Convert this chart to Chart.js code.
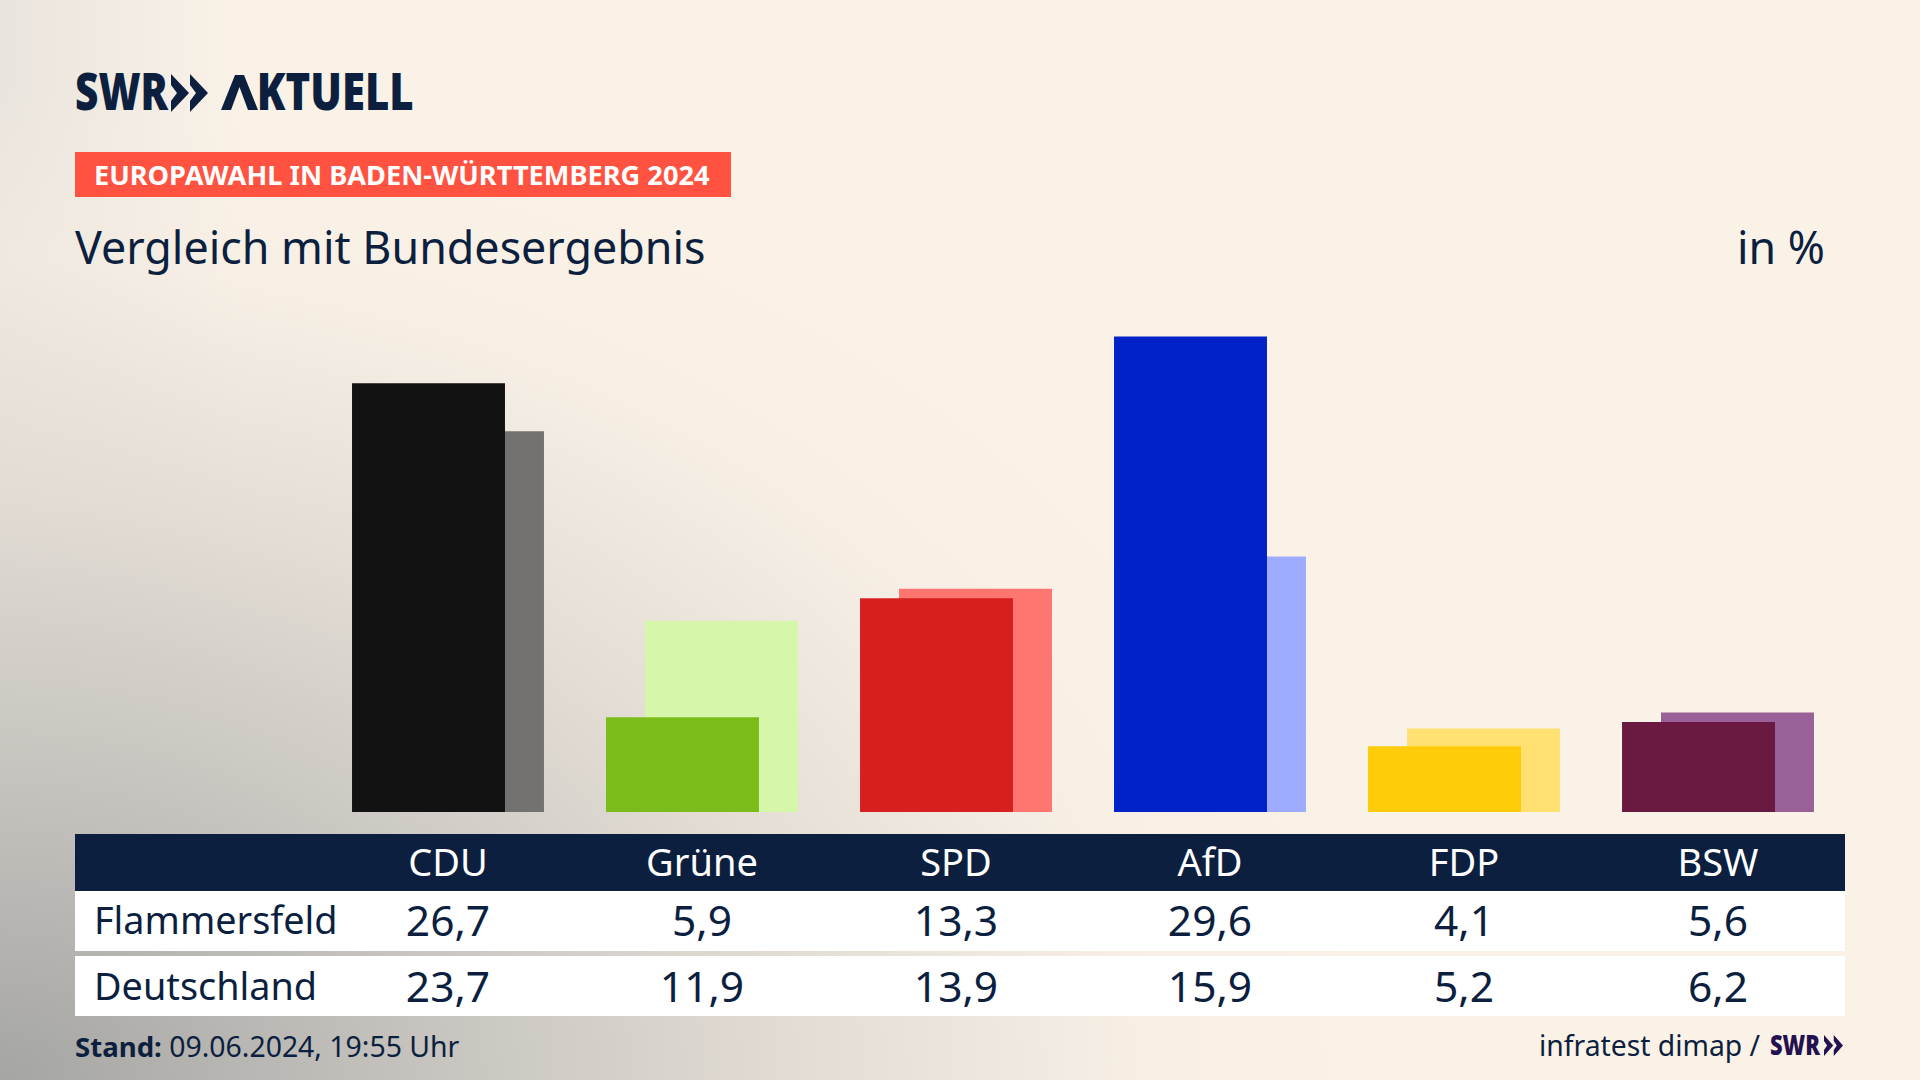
<!DOCTYPE html>
<html lang="de">
<head>
<meta charset="utf-8">
<title>Europawahl in Baden-Württemberg 2024</title>
<script src="https://cdn.jsdelivr.net/npm/chart.js@4"></script>
<style>
  html, body { margin: 0; padding: 0; }
  body {
    width: 1920px; height: 1080px; overflow: hidden; position: relative;
    font-family: "Noto Sans", sans-serif; color: #0c1f3f;
    background:
      radial-gradient(ellipse 1400px 1000px at 0 1080px, rgba(165,165,163,1) 0%, rgba(198,195,190,1) 30%, rgba(224,218,210,.88) 58%, rgba(245,237,227,.5) 82%, rgba(250,242,231,0) 100%),
      linear-gradient(90deg, #e9e4dd 0, #faf2e7 240px);
  }
  .abs { position: absolute; white-space: nowrap; line-height: 1; }
  #chartBox { position: absolute; left: 320px; top: 298px; width: 1525px; height: 514px; }
  #band { left: 75px; top: 152px; width: 656px; height: 45px; background: #ff5240; }
  #bandText { left: 94px; top: 161px; font-size: 27.2px; font-weight: 700; color: #fff; }
  #logoSwr { left: 75px; top: 64px; font-size: 52px; font-weight: 900; transform: scaleX(.78); transform-origin: 0 0; }
  #logoAkt { left: 220px; top: 64px; font-size: 52px; font-weight: 900; transform: scaleX(.805); transform-origin: 0 0; }
  #logoAkt .a { color: transparent; margin-right: 8px; }
  #title { left: 75px; top: 225px; font-size: 44.8px; }
  #unit { right: 95px; top: 225px; font-size: 44.7px; }
  .row { position: absolute; left: 75px; width: 1770px; }
  #headRow { top: 834px; height: 57px; background: #0c1f3f; }
  #row1 { top: 891px; height: 60px; background: #fff; }
  #row2 { top: 956px; height: 60px; background: #fff; }
  .cell { position: absolute; transform: translateX(-50%); white-space: nowrap; line-height: 1; }
  .head { font-size: 38px; color: #fff; }
  .val { font-size: 42.5px; }
  .rowLabel { position: absolute; left: 94px; font-size: 37.8px; line-height: 1; }
  #stand { left: 75px; top: 1032px; font-size: 28.4px; }
  #stand b { font-size: 27.6px; }
  #source { left: 1539px; top: 1031px; font-size: 28.3px; }
  #srcSwr { left: 1770px; top: 1030px; font-size: 28px; font-weight: 900; color: #24114f; transform: scaleX(.78); transform-origin: 0 0; }
</style>
</head>
<body>
  <div class="abs" id="logoSwr">SWR</div>
  <svg class="abs" style="left:171px;top:74px" width="37" height="38" viewBox="0 0 37 38">
    <path d="M0 0 L18 19 L0 38 L0 27 L6 19 L0 11 Z M19 0 L37 19 L19 38 L19 27 L25 19 L19 11 Z" fill="#0c1f3f"/>
  </svg>
  <div class="abs" id="logoAkt"><span class="a">A</span>KTUELL</div>
  <svg class="abs" style="left:220px;top:74px" width="40" height="37" viewBox="0 0 40 37">
    <path d="M1 36 L15 1 L24 1 L38 36 L28 36 L19.5 13 L11 36 Z" fill="#0c1f3f"/>
  </svg>
  <div class="abs" id="band"></div>
  <div class="abs" id="bandText">EUROPAWAHL IN BADEN-WÜRTTEMBERG 2024</div>
  <div class="abs" id="title">Vergleich mit Bundesergebnis</div>
  <div class="abs" id="unit">in %</div>

  <div class="row" id="headRow"></div>
  <div class="row" id="row1"></div>
  <div class="row" id="row2"></div>

  <div id="chartBox"><canvas id="barChart" width="1525" height="514"></canvas></div>
  <div id="tableText"></div>

  <div class="abs" id="stand"><b>Stand:</b> 09.06.2024, 19:55 Uhr</div>
  <div class="abs" id="source">infratest dimap /</div>
  <div class="abs" id="srcSwr">SWR</div>
  <svg class="abs" style="left:1824px;top:1035px" width="19" height="21" viewBox="0 0 37 38" preserveAspectRatio="none">
    <path d="M0 0 L18 19 L0 38 L0 27 L6 19 L0 11 Z M19 0 L37 19 L19 38 L19 27 L25 19 L19 11 Z" fill="#24114f"/>
  </svg>

<script>
// Daten
const parties = ['CDU', 'Grüne', 'SPD', 'AfD', 'FDP', 'BSW'];
const flammersfeld = [26.7, 5.9, 13.3, 29.6, 4.1, 5.6];
const deutschland = [23.7, 11.9, 13.9, 15.9, 5.2, 6.2];
const flammersfeldColors = ['#121212', '#7bbc1a', '#d81f1f', '#0022c8', '#ffcc0a', '#6a1a40'];
const deutschlandColors = ['#737270', '#d6f7a9', '#ff7570', '#9eacff', '#ffe070', '#9a6098'];

const germanNumber = v => v.toFixed(1).replace('.', ',');

// Erster Datensatz liegt oben, der zweite ragt rechts dahinter hervor
const chart = new Chart(document.getElementById('barChart'), {
  type: 'bar',
  data: {
    labels: parties,
    datasets: [
      { label: 'Flammersfeld', data: flammersfeld, backgroundColor: flammersfeldColors },
      { label: 'Deutschland', data: deutschland, backgroundColor: deutschlandColors }
    ]
  },
  options: {
    responsive: false,
    animation: false,
    categoryPercentage: 0.307,
    barPercentage: 3.923,
    layout: { padding: { left: 1 } },
    plugins: { legend: { display: false }, tooltip: { enabled: false } },
    scales: {
      x: { display: false },
      y: { display: false, min: 0, max: 32 }
    }
  }
});

// Tabelle unter dem Diagramm, Spalten folgen der x-Achse
const tableText = document.getElementById('tableText');
function addCell(text, cls, center, top) {
  const el = document.createElement('div');
  el.className = 'cell ' + cls;
  el.textContent = text;
  el.style.left = center + 'px';
  el.style.top = top + 'px';
  tableText.appendChild(el);
}
function addRowLabel(text, top) {
  const el = document.createElement('div');
  el.className = 'rowLabel';
  el.textContent = text;
  el.style.top = top + 'px';
  tableText.appendChild(el);
}
addRowLabel('Flammersfeld', 901);
addRowLabel('Deutschland', 967);
parties.forEach((p, i) => {
  const center = 320 + chart.scales.x.getPixelForValue(i);
  addCell(p, 'head', center, 842);
  addCell(germanNumber(flammersfeld[i]), 'val', center, 899);
  addCell(germanNumber(deutschland[i]), 'val', center, 965);
});
</script>
</body>
</html>
